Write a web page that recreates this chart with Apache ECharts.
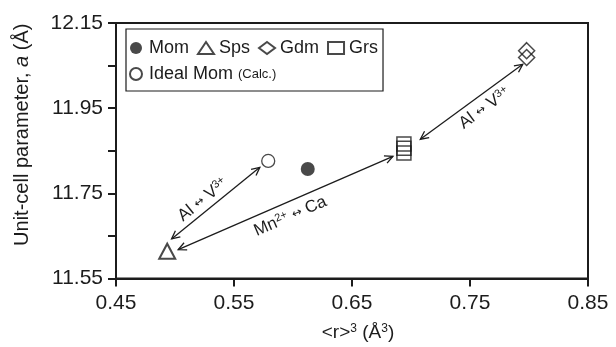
<!DOCTYPE html>
<html>
<head>
<meta charset="utf-8">
<script src="https://cdn.jsdelivr.net/npm/echarts@6/dist/echarts.min.js"></script>
<style>
html, body { margin: 0; padding: 0; background: #fff; }
#garnet { width: 616px; height: 347px; }
</style>
</head>
<body>
<div id="garnet"></div>
<script>
// points: [<r>^3, a]
var momPts = [[0.6125, 11.807]];
var idealMomPts = [[0.579, 11.826]];
var spsPts = [[0.4934, 11.614]];
var gdmPts = [[0.798, 12.085], [0.798, 12.069]];
var grsPts = [[0.694, 11.866], [0.694, 11.856], [0.694, 11.845]];

var xTicks = [0.45, 0.55, 0.65, 0.75, 0.85];
var yTicks = [11.55, 11.65, 11.75, 11.85, 11.95, 12.05, 12.15];
var yLabels = [11.55, 11.75, 11.95, 12.15];

// substitution arrows (start, end) and where their labels sit
var arrowFrom = [[0.4971, 11.643], [0.5027, 11.618], [0.7079, 11.877]];
var arrowTo = [[0.5719, 11.811], [0.6847, 11.837], [0.7947, 12.053]];
var labelAt = [[0.5236, 11.735], [0.5978, 11.696], [0.7623, 11.950]];
var arrowText = ['{n|Al} {a|↔} {n|V}{s|3+}', '{n|Mn}{s|2+} {a|↔} {n|Ca}', '{n|Al} {a|↔} {n|V}{s|3+}'];

var ink = '#1c1c1c';
var font = "'Liberation Sans', Arial, Helvetica, sans-serif";

var arrowData = arrowFrom.map(function (p, i) {
  return [p[0], p[1], arrowTo[i][0], arrowTo[i][1], labelAt[i][0], labelAt[i][1]];
});

function head(p, dir) {
  var h = 9, w = 0.45;
  return [
    [p[0] - h * Math.cos(dir - w), p[1] - h * Math.sin(dir - w)],
    [p[0], p[1]],
    [p[0] - h * Math.cos(dir + w), p[1] - h * Math.sin(dir + w)]
  ];
}

function renderArrow(params, api) {
  var a = api.coord([api.value(0), api.value(1)]);
  var b = api.coord([api.value(2), api.value(3)]);
  var c = api.coord([api.value(4), api.value(5)]);
  var ang = Math.atan2(b[1] - a[1], b[0] - a[0]);
  var st = { stroke: ink, lineWidth: 1.3, fill: null };
  return {
    type: 'group',
    children: [
      { type: 'line', shape: { x1: a[0], y1: a[1], x2: b[0], y2: b[1] }, style: st },
      { type: 'polyline', shape: { points: head(b, ang) }, style: st },
      { type: 'polyline', shape: { points: head(a, ang + Math.PI) }, style: st },
      {
        type: 'text', x: c[0], y: c[1], rotation: -ang,
        style: {
          text: arrowText[params.dataIndex],
          align: 'center', verticalAlign: 'middle',
          fill: ink, fontFamily: font, fontSize: 17,
          rich: {
            n: { fontSize: 17, fontFamily: font, fill: ink, lineHeight: 18 },
            a: { fontSize: 12, fontFamily: "'DejaVu Sans', sans-serif", fill: ink, lineHeight: 18 },
            s: { fontSize: 11, fontFamily: font, fill: ink, lineHeight: 10, verticalAlign: 'top' }
          }
        }
      }
    ]
  };
}

var chart = echarts.init(document.getElementById('garnet'));
var option = {
  animation: false,
  backgroundColor: '#fff',
  grid: {
    left: 116, right: 28, top: 23, bottom: 67,
    show: true, borderColor: ink, borderWidth: 2
  },
  legend: {
    left: 126, top: 29, width: 256,
    padding: [10, 5, 8, 3],
    itemWidth: 16, itemHeight: 12, itemGap: 8,
    borderColor: ink, borderWidth: 1.2,
    data: ['Mom', 'Sps', 'Gdm', 'Grs', 'Ideal Mom'],
    formatter: function (name) {
      return name === 'Ideal Mom' ? '{b|Ideal Mom} {c|(Calc.)}' : name;
    },
    textStyle: {
      fontSize: 18, color: ink, fontFamily: font,
      rich: {
        b: { fontSize: 18, color: ink, fontFamily: font },
        c: { fontSize: 13, color: ink, fontFamily: font }
      }
    }
  },
  xAxis: {
    type: 'value', min: 0.45, max: 0.85,
    name: '{n|<r>}{s|3}{n| (Å}{s|3}{n|)}',
    nameLocation: 'middle', nameGap: 44,
    nameTextStyle: {
      padding: [0, 0, 0, 12],
      rich: {
        n: { fontSize: 19, color: ink, fontFamily: font, lineHeight: 20 },
        s: { fontSize: 12, color: ink, fontFamily: font, lineHeight: 11, verticalAlign: 'top' }
      }
    },
    axisLine: { lineStyle: { color: ink, width: 2 } },
    axisTick: { length: 8, customValues: xTicks, lineStyle: { color: ink, width: 2 } },
    axisLabel: {
      customValues: xTicks, margin: 14, fontSize: 21, color: ink, fontFamily: font,
      formatter: function (v) { return v.toFixed(2); }
    },
    splitLine: { show: false }
  },
  yAxis: {
    type: 'value', min: 11.55, max: 12.15,
    name: '{n|Unit-cell parameter, }{i|a}{n| (Å)}',
    nameLocation: 'middle', nameGap: 84, nameRotate: 90,
    nameTextStyle: {
      padding: [0, 0, 0, 32],
      rich: {
        n: { fontSize: 20, color: ink, fontFamily: font },
        i: { fontSize: 20, color: ink, fontFamily: font, fontStyle: 'italic' }
      }
    },
    axisLine: { lineStyle: { color: ink, width: 2 } },
    axisTick: { length: 8, customValues: yTicks, lineStyle: { color: ink, width: 2 } },
    axisLabel: {
      customValues: yLabels, margin: 13, fontSize: 21, color: ink, fontFamily: font,
      formatter: function (v) { return v.toFixed(2); }
    },
    splitLine: { show: false }
  },
  series: [
    {
      name: 'Mom', type: 'scatter', symbol: 'circle', symbolSize: 14,
      itemStyle: { color: ink }, data: momPts
    },
    {
      name: 'Sps', type: 'scatter', symbol: 'triangle', symbolSize: [16, 15],
      itemStyle: { color: 'rgba(255,255,255,0)', borderColor: ink, borderWidth: 2 }, data: spsPts
    },
    {
      name: 'Gdm', type: 'scatter', symbol: 'diamond', symbolSize: 16,
      itemStyle: { color: 'rgba(255,255,255,0)', borderColor: ink, borderWidth: 1.5 }, data: gdmPts
    },
    {
      name: 'Grs', type: 'scatter', symbol: 'rect', symbolSize: 14,
      itemStyle: { color: 'rgba(255,255,255,0)', borderColor: ink, borderWidth: 1.5 }, data: grsPts
    },
    {
      name: 'Ideal Mom', type: 'scatter', symbol: 'circle', symbolSize: 13,
      itemStyle: { color: 'rgba(255,255,255,0)', borderColor: ink, borderWidth: 1.3 }, data: idealMomPts
    },
    {
      name: 'arrows', type: 'custom', renderItem: renderArrow,
      silent: true, data: arrowData, z: 3
    }
  ]
};
chart.setOption(option);
</script>
</body>
</html>
